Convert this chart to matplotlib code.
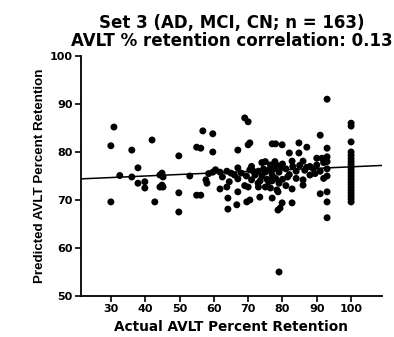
import matplotlib
matplotlib.use("Agg")
import matplotlib.pyplot as plt
import numpy as np

plt.rcParams["font.family"] = ["DejaVu Sans"]

# actual vs predicted AVLT percent retention, one point per subject
actual = [
    30, 30, 30.9, 32.6, 36.1, 36.1, 37.9, 37.9, 39.9, 39.9,
    42, 42.8, 44.3, 45.2, 44.9, 44.3, 45.2, 44.9, 49.8, 49.8,
    49.8, 53, 55, 56.2, 55, 56.2, 56.8, 57.7, 58, 59.7,
    59.7, 59.7, 61.8, 61.8, 63.8, 63.8, 64.1, 64.1, 67, 67,
    67, 67, 66.7, 69, 70, 69, 70, 69.6, 70.5, 70.5,
    70, 70.5, 71, 60.5, 65, 66, 68, 69.5, 71.5, 72.9,
    73, 73.4, 75, 77, 78.4, 78.7, 79.9, 79.3, 78.7, 77,
    75, 77.8, 79.9, 78, 79, 72, 73, 74, 74.5, 75.5,
    76, 76.5, 77, 77.5, 78, 78.5, 79, 79.5, 80, 80,
    73.5, 75, 76, 77, 79, 82, 82.8, 82.8, 82.8, 84.8,
    84.8, 87.1, 86, 86, 86, 90, 91.5, 91, 91, 93,
    93, 93, 93, 93, 93, 93, 81, 82, 83, 84,
    85, 86.5, 88, 89, 90, 91, 92, 93, 93, 81.5,
    84, 88, 92, 100, 100, 100, 100, 100, 100, 100,
    100, 100, 100, 100, 100, 100, 100, 100, 100, 100,
    100, 100, 100, 100, 62.5, 64.5, 71, 74, 76.5, 81,
    87, 89.5, 58.5,
]
predicted = [
    69.6, 81.3, 85.2, 75.1, 74.8, 80.4, 76.7, 73.5, 73.8, 72.5,
    82.5, 69.6, 75.2, 74.8, 73.1, 72.7, 72.7, 75.6, 79.2, 71.5,
    67.5, 75.0, 81.0, 80.8, 71.0, 71.0, 84.4, 74.2, 73.5, 83.8,
    80.0, 75.8, 75.8, 72.3, 76.0, 72.7, 70.4, 68.1, 80.4, 76.7,
    74.4, 71.7, 69.0, 87.1, 86.3, 73.0, 72.7, 69.6, 70.0, 81.9,
    81.5, 76.3, 74.2, 76.3, 75.6, 75.2, 75.6, 75.0, 76.0, 73.5,
    72.7, 70.6, 72.7, 70.4, 72.1, 71.7, 69.4, 68.3, 67.9, 81.7,
    78.0, 78.0, 81.5, 81.7, 55.0, 75.2, 76.0, 75.0, 76.5, 74.3,
    76.2, 77.3, 75.2, 76.5, 74.5, 77.2, 75.8, 76.8, 74.3, 77.5,
    74.0, 75.8, 73.8, 74.0, 73.5, 79.8, 78.1, 72.3, 69.4, 81.9,
    79.8, 81.0, 78.1, 74.2, 73.1, 78.7, 78.7, 83.5, 71.3, 91.0,
    80.8, 79.0, 75.0, 71.7, 69.6, 66.3, 76.5, 75.3, 77.0, 76.0,
    77.2, 76.2, 77.0, 76.5, 77.3, 76.0, 77.8, 76.5, 78.0, 74.8,
    74.5, 75.2, 74.5, 86.0, 85.4, 82.1, 80.0, 79.3, 78.6, 78.0,
    77.4, 76.8, 76.2, 75.6, 75.0, 74.4, 73.8, 73.2, 72.6, 72.0,
    71.4, 70.8, 70.2, 69.6, 74.8, 73.8, 77.0, 77.8, 72.5, 73.0,
    76.8, 75.5, 75.5,
]

# fitted line, read at the two ends of the x axis
fit_x = [21.3, 109]
fit_y = [74.4, 77.2]

x_ticks = [30, 40, 50, 60, 70, 80, 90, 100]
y_ticks = [50, 60, 70, 80, 90, 100]

fig = plt.figure(figsize=(3.94, 3.37), dpi=100)
ax = fig.add_axes([0.2056, 0.1217, 0.7639, 0.7121])

ax.scatter(actual, predicted, s=25, color="black", edgecolors="none", zorder=3)
ax.plot(fit_x, fit_y, color="black", linewidth=1.1, zorder=2)

ax.set_xlim(21.3, 109)
ax.set_ylim(50, 100)
ax.set_xticks(x_ticks)
ax.set_yticks(y_ticks)

for side in ("top", "right"):
    ax.spines[side].set_visible(False)
for side in ("left", "bottom"):
    ax.spines[side].set_linewidth(1.3)
ax.tick_params(width=1.2, length=4, labelsize=8, pad=2)
for lbl in ax.get_xticklabels() + ax.get_yticklabels():
    lbl.set_fontweight("bold")

ax.set_xlabel("Actual AVLT Percent Retention", fontsize=9.8, fontweight="bold", labelpad=4)
ax.set_ylabel("Predicted AVLT Percent Retention", fontsize=9.6, fontweight="bold",
              family=["Liberation Sans Narrow", "Liberation Sans"], labelpad=3)
ax.set_title("Set 3 (AD, MCI, CN; n = 163)\nAVLT % retention correlation: 0.13",
             fontsize=12, fontweight="bold", pad=7, linespacing=1.05)

fig.savefig("out.png", dpi=100)
